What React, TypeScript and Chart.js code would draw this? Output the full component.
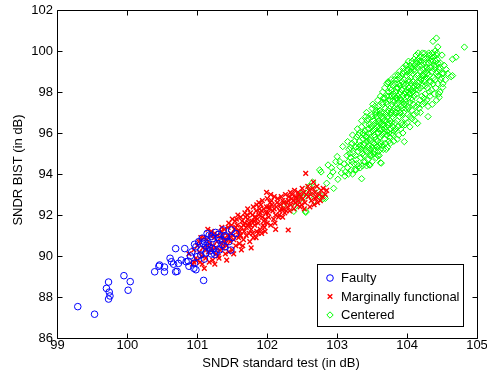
import React, { useEffect, useRef } from 'react';
import { Chart, registerables } from 'chart.js';

Chart.register(...registerables);

const FONT = "'Liberation Sans', Arial, Helvetica, sans-serif";

const xTicks = [99, 100, 101, 102, 103, 104, 105];
const yTicks = [86, 88, 90, 92, 94, 96, 98, 100, 102];
const seriesNames = ['Faulty', 'Marginally functional', 'Centered'];
const xTitle = 'SNDR standard test (in dB)';
const yTitle = 'SNDR BIST (in dB)';

const faulty: [number, number][] = [
  [99.29, 87.53], [99.53, 87.16], [99.73, 88.73], [99.7, 88.42], [99.74, 88.24], [99.75, 88.05], [99.73, 87.9],
  [99.95, 89.04], [100.04, 88.75], [100.01, 88.33], [100.39, 89.23], [100.46, 89.56], [100.53, 89.46], [100.53, 89.23],
  [100.69, 90.36], [100.82, 90.36], [100.61, 89.89], [100.63, 89.72], [100.69, 89.23], [100.71, 89.25], [100.73, 89.64],
  [100.77, 89.8], [100.84, 89.72], [100.87, 89.75], [100.96, 90.57], [100.95, 89.4], [100.98, 89.33], [100.96, 89.64],
  [101.09, 88.81], [101.0, 89.97], [101.07, 90.87], [101.14, 91.1], [101.17, 91.02], [101.22, 90.85], [101.28, 90.6],
  [101.37, 91.27], [101.49, 91.27], [101.48, 90.29], [101.12, 90.52], [101.17, 90.44], [101.22, 90.36], [101.27, 90.2],
  [101.05, 90.3], [101.12, 90.15], [101.25, 90.07], [101.32, 90.3], [101.39, 90.45], [101.42, 90.93], [101.32, 90.77],
  [101.02, 90.7], [101.1, 90.7], [101.15, 90.6], [101.2, 90.95], [101.3, 91.05], [101.35, 90.55], [101.45, 90.7],
  [101.05, 90.05], [101.18, 90.25], [100.9, 90.0], [100.92, 90.2], [101.1, 89.85], [101.3, 90.9], [101.4, 91.0],
  [101.26, 91.15], [100.98, 90.45], [101.2, 90.1], [101.08, 90.62], [101.5, 90.9], [101.55, 91.1], [100.88, 89.5],
  [100.66, 89.6], [100.45, 89.5],
];

const marginal: [number, number][] = [
  [100.88, 90.1], [100.93, 89.6], [100.95, 90.3], [100.98, 89.9], [101.0, 90.5],
  [101.03, 90.2], [101.04, 89.7], [101.02, 90.7],
  [101.08, 90.4], [101.07, 89.6], [101.09, 90.9], [101.06, 90.0],
  [101.13, 90.3], [101.12, 89.9], [101.14, 90.8], [101.15, 90.5],
  [101.18, 90.6], [101.17, 89.7], [101.19, 91.0], [101.16, 90.2],
  [101.23, 90.5], [101.22, 89.8], [101.24, 90.9], [101.21, 90.3], [101.25, 91.1],
  [101.28, 90.7], [101.27, 90.1], [101.29, 91.0], [101.26, 90.4],
  [101.33, 90.9], [101.32, 90.3], [101.34, 91.2], [101.31, 89.9], [101.35, 90.6],
  [101.38, 90.8], [101.37, 90.4], [101.39, 91.3], [101.36, 91.0], [101.4, 90.1],
  [101.43, 91.0], [101.42, 90.5], [101.44, 91.4], [101.41, 90.8], [101.42, 89.8],
  [101.48, 91.1], [101.47, 90.7], [101.49, 91.5], [101.46, 90.9], [101.5, 90.3],
  [101.53, 91.3], [101.52, 90.8], [101.54, 91.7], [101.51, 91.0], [101.55, 90.5],
  [101.58, 91.2], [101.57, 91.5], [101.59, 90.9], [101.56, 91.8], [101.6, 90.6],
  [101.63, 91.4], [101.62, 91.0], [101.64, 91.7], [101.63, 90.3], [101.61, 91.2],
  [101.68, 91.6], [101.67, 91.2], [101.69, 91.9], [101.66, 90.8], [101.7, 91.4],
  [101.73, 91.5], [101.72, 91.8], [101.74, 91.1], [101.71, 92.0], [101.77, 90.4],
  [101.78, 91.7], [101.77, 91.3], [101.79, 92.0], [101.76, 91.5], [101.8, 90.9],
  [101.83, 91.9], [101.82, 91.5], [101.84, 92.2], [101.81, 91.7], [101.85, 91.2],
  [101.88, 92.0], [101.87, 91.6], [101.89, 92.3], [101.86, 91.8], [101.9, 91.3],
  [101.93, 91.9], [101.92, 92.2], [101.94, 91.5], [101.91, 92.5], [101.95, 91.7],
  [101.98, 92.1], [101.97, 91.8], [101.99, 92.4], [101.99, 93.1], [101.96, 91.4],
  [102.03, 92.3], [102.02, 91.9], [102.04, 92.6], [102.01, 92.1],
  [102.08, 92.2], [102.07, 92.5], [102.09, 91.8], [102.06, 92.7],
  [102.13, 92.4], [102.12, 92.0], [102.14, 92.6], [102.11, 91.6],
  [102.19, 92.5], [102.18, 92.2], [102.2, 92.9], [102.17, 92.0],
  [102.24, 92.6], [102.23, 92.3], [102.25, 92.1],
  [102.3, 92.7], [102.29, 92.4], [102.3, 91.27], [102.31, 92.9],
  [102.35, 92.8], [102.34, 92.5], [102.36, 93.0],
  [102.41, 92.9], [102.4, 92.6], [102.42, 92.8],
  [102.46, 93.0], [102.45, 92.7], [102.47, 92.4],
  [102.52, 93.1], [102.51, 92.8], [102.53, 92.3],
  [102.55, 94.03],
  [102.6, 93.2], [102.59, 92.9], [102.61, 92.4],
  [102.66, 93.6], [102.65, 93.3], [102.67, 92.5],
  [102.71, 93.4], [102.7, 92.9], [102.72, 92.6],
  [102.77, 93.2], [102.76, 92.7],
  [102.83, 93.0],
];

const marginalExtra: [number, number][] = [
  [101.05, 90.9], [101.1, 89.4], [101.2, 91.2], [101.25, 89.6], [101.3, 90.0], [101.35, 91.4], [101.4, 90.6],
  [101.45, 91.6], [101.45, 90.2], [101.5, 91.8], [101.52, 90.1], [101.55, 91.4], [101.58, 92.0], [101.6, 91.0],
  [101.62, 91.9], [101.65, 90.5], [101.66, 91.5], [101.68, 92.1], [101.7, 91.0], [101.72, 92.3], [101.74, 91.6],
  [101.75, 90.7], [101.76, 92.1], [101.79, 91.1], [101.8, 92.4], [101.82, 91.9], [101.84, 90.9], [101.85, 92.5],
  [101.87, 91.1], [101.88, 92.6], [101.9, 92.1], [101.92, 91.1], [101.93, 92.7], [101.95, 92.3], [101.97, 91.2],
  [102.0, 92.8], [102.0, 91.6], [102.02, 92.4], [102.05, 91.5], [102.05, 93.0], [102.1, 92.3], [102.1, 92.9],
  [102.12, 91.3], [102.15, 92.8], [102.16, 91.9], [102.2, 92.3], [102.22, 92.7], [102.22, 91.9], [102.26, 93.0],
  [102.27, 92.2], [102.28, 92.6], [102.32, 92.2], [102.33, 93.1], [102.37, 92.7], [102.38, 92.3], [102.39, 93.2],
  [102.43, 92.5], [102.44, 93.1], [102.48, 92.9], [102.49, 92.5], [102.5, 93.3], [102.54, 92.6], [102.56, 93.0],
  [102.58, 93.4], [102.62, 93.0], [102.63, 92.7], [102.68, 93.1], [102.69, 92.8], [102.74, 93.0], [102.79, 92.9],
  [102.8, 93.3], [102.85, 93.2], [101.15, 91.3], [101.0, 89.8], [100.95, 89.7],
];

const centeredTail: [number, number][] = [
  [102.24, 92.52], [102.38, 92.18], [102.55, 92.18], [102.46, 92.73], [102.48, 93.0], [102.58, 93.1], [102.67, 92.7],
  [102.8, 92.8], [102.85, 93.55], [102.77, 94.1], [102.87, 94.44], [103.0, 94.85], [103.04, 94.6], [103.1, 94.5],
  [102.55, 92.13], [102.83, 92.81], [102.94, 94.1], [103.01, 93.74], [102.62, 92.95], [102.7, 93.3], [102.6, 93.4],
  [102.52, 92.85], [102.9, 93.9], [102.95, 93.3], [102.75, 93.0], [102.4, 92.4], [102.65, 93.6], [102.92, 94.3],
  [102.75, 94.2], [103.04, 94.36], [103.08, 95.34], [103.15, 95.58], [103.18, 95.0], [103.27, 95.33], [103.35, 93.77],
  [103.27, 94.2], [103.46, 94.44], [103.62, 94.55], [103.96, 95.58], [103.06, 94.05], [102.98, 94.6],
];

const centeredCore: [number, number][] = [
  [103.12, 94.1], [103.14, 94.9], [103.11, 93.9],
  [103.16, 94.6], [103.17, 95.2], [103.15, 94.3],
  [103.2, 94.2], [103.21, 95.5], [103.19, 94.8],
  [103.23, 95.0], [103.24, 94.5], [103.22, 95.9],
  [103.27, 94.7], [103.26, 95.3], [103.28, 95.8], [103.25, 94.2],
  [103.3, 95.1], [103.31, 94.4], [103.29, 96.2], [103.32, 95.6],
  [103.33, 95.4], [103.34, 94.8], [103.32, 96.0], [103.35, 96.6],
  [103.36, 95.0], [103.37, 95.7], [103.38, 94.6], [103.35, 96.3], [103.36, 95.3],
  [103.39, 95.5], [103.4, 96.1], [103.38, 94.9], [103.41, 96.8], [103.4, 95.2],
  [103.42, 95.8], [103.43, 95.1], [103.41, 96.4], [103.44, 94.7], [103.42, 97.0], [103.43, 95.6],
  [103.45, 96.0], [103.46, 95.4], [103.44, 96.7], [103.47, 94.9], [103.45, 96.2], [103.46, 95.7],
  [103.48, 95.6], [103.49, 96.3], [103.47, 95.0], [103.5, 97.2], [103.48, 96.0], [103.5, 94.6],
  [103.51, 96.1], [103.52, 95.5], [103.5, 96.8], [103.53, 95.2], [103.51, 97.4], [103.52, 96.4], [103.53, 95.9],
  [103.54, 95.8], [103.55, 96.5], [103.53, 95.1], [103.56, 97.0], [103.54, 96.2], [103.56, 94.8], [103.55, 96.9],
  [103.57, 96.3], [103.58, 95.6], [103.56, 97.1], [103.59, 96.0], [103.57, 95.3], [103.58, 97.6], [103.59, 96.6],
  [103.6, 96.5], [103.61, 95.8], [103.59, 97.3], [103.62, 96.1], [103.6, 95.4], [103.61, 96.9], [103.62, 97.8], [103.6, 94.9],
  [103.63, 96.2], [103.64, 96.8], [103.62, 95.5], [103.65, 97.4], [103.63, 96.5], [103.64, 95.9], [103.65, 98.0],
  [103.66, 96.7], [103.67, 96.0], [103.65, 97.5], [103.68, 95.7], [103.66, 97.0], [103.67, 96.4], [103.68, 98.2], [103.66, 95.2],
  [103.69, 96.9], [103.7, 96.3], [103.68, 97.7], [103.71, 95.9], [103.69, 97.2], [103.7, 96.6], [103.71, 98.4],
  [103.72, 97.0], [103.73, 96.4], [103.71, 97.8], [103.74, 96.0], [103.72, 97.4], [103.73, 98.5], [103.74, 95.6], [103.72, 96.8],
  [103.75, 97.2], [103.76, 96.6], [103.74, 98.0], [103.77, 96.2], [103.75, 97.6], [103.76, 96.9], [103.77, 98.6], [103.75, 95.8],
  [103.78, 97.4], [103.79, 96.8], [103.77, 98.1], [103.8, 96.3], [103.78, 97.8], [103.79, 97.1], [103.8, 95.9],
  [103.81, 97.5], [103.82, 96.9], [103.8, 98.3], [103.83, 96.5], [103.81, 97.9], [103.82, 97.2], [103.83, 98.8], [103.81, 96.1],
  [103.84, 97.7], [103.85, 97.0], [103.83, 98.4], [103.86, 96.6], [103.84, 98.0], [103.85, 97.4], [103.86, 95.7],
  [103.87, 97.8], [103.88, 97.2], [103.86, 98.6], [103.89, 96.8], [103.87, 98.2], [103.88, 97.5], [103.89, 99.0], [103.87, 96.3],
  [103.9, 98.0], [103.91, 97.3], [103.89, 98.7], [103.92, 96.9], [103.9, 98.3], [103.91, 97.6], [103.92, 96.5],
  [103.93, 98.1], [103.94, 97.5], [103.92, 98.8], [103.95, 97.0], [103.93, 98.5], [103.94, 97.8], [103.95, 99.2], [103.93, 96.4],
  [103.96, 98.3], [103.97, 97.6], [103.95, 99.0], [103.98, 97.2], [103.96, 98.6], [103.97, 97.9], [103.98, 96.7],
  [103.99, 98.4], [104.0, 97.8], [103.98, 99.3], [104.01, 97.3], [103.99, 98.8], [104.0, 98.1], [104.01, 96.9],
  [104.02, 98.6], [104.03, 97.9], [104.01, 99.1], [104.04, 97.5], [104.02, 98.9], [104.03, 98.2], [104.04, 96.8], [104.02, 99.5],
  [104.05, 98.7], [104.06, 98.1], [104.04, 99.3], [104.07, 97.6], [104.05, 99.0], [104.06, 98.4], [104.07, 97.1],
  [104.08, 98.9], [104.09, 98.2], [104.07, 99.5], [104.1, 97.8], [104.08, 99.2], [104.09, 98.5], [104.1, 96.9],
  [104.11, 99.0], [104.12, 98.4], [104.1, 99.6], [104.13, 97.9], [104.11, 99.3], [104.12, 98.7], [104.13, 97.3],
  [104.14, 99.2], [104.15, 98.5], [104.13, 99.8], [104.16, 98.1], [104.14, 99.4], [104.15, 98.8], [104.16, 97.4],
  [104.17, 99.3], [104.18, 98.7], [104.16, 99.9], [104.19, 98.2], [104.17, 99.5], [104.18, 97.6],
  [104.2, 99.5], [104.21, 98.8], [104.19, 99.7], [104.22, 98.3], [104.2, 99.0], [104.21, 97.8],
  [104.23, 99.4], [104.24, 98.9], [104.22, 99.9], [104.25, 98.5], [104.23, 99.1], [104.24, 97.7],
  [104.26, 99.6], [104.27, 99.0], [104.25, 98.6], [104.28, 99.2], [104.26, 97.9],
  [104.29, 99.7], [104.3, 99.1], [104.28, 98.7], [104.31, 99.4], [104.29, 98.2],
  [104.32, 99.8], [104.33, 99.2], [104.31, 98.8], [104.34, 99.5], [104.32, 98.0],
  [104.35, 99.6], [104.36, 99.0], [104.34, 98.5], [104.36, 99.9],
  [104.38, 99.7], [104.39, 99.1], [104.37, 98.4], [104.39, 99.3],
  [104.41, 99.5], [104.42, 98.9], [104.4, 98.6], [104.42, 99.8],
  [104.44, 99.4], [104.45, 98.8], [104.43, 99.0],
  [104.47, 99.2], [104.48, 98.6],
  [104.5, 98.9], [104.51, 98.4],
];

const centeredExtra: [number, number][] = [
  [103.22, 94.0], [103.25, 95.6], [103.28, 94.5], [103.3, 95.9], [103.33, 94.3], [103.34, 95.2], [103.37, 96.0],
  [103.38, 95.4], [103.4, 94.6], [103.41, 95.8], [103.43, 96.6], [103.44, 95.3], [103.46, 96.4], [103.47, 95.2],
  [103.49, 96.9], [103.49, 94.9], [103.52, 96.6], [103.52, 95.0], [103.54, 97.3], [103.55, 95.4], [103.57, 96.8],
  [103.58, 94.9], [103.6, 96.2], [103.61, 97.1], [103.62, 95.2], [103.64, 96.4], [103.65, 95.4], [103.66, 97.7],
  [103.67, 96.6], [103.69, 95.5], [103.7, 97.5], [103.71, 96.1], [103.72, 95.3], [103.73, 97.1], [103.74, 96.5],
  [103.76, 98.2], [103.76, 95.5], [103.77, 97.0], [103.79, 96.0], [103.8, 97.6], [103.81, 95.6], [103.82, 98.6],
  [103.83, 97.0], [103.84, 96.2], [103.85, 98.2], [103.86, 97.2], [103.88, 95.9], [103.88, 98.4], [103.9, 97.0],
  [103.91, 96.2], [103.92, 98.1], [103.93, 97.2], [103.94, 96.0], [103.95, 98.4], [103.96, 97.4], [103.97, 96.4],
  [103.98, 98.0], [104.0, 96.5], [104.0, 99.0], [104.02, 97.2], [104.03, 98.5], [104.04, 96.3], [104.05, 97.9],
  [104.06, 99.2], [104.07, 96.7], [104.08, 98.0], [104.09, 97.4], [104.1, 99.1], [104.11, 96.6], [104.12, 98.1],
  [104.13, 99.5], [104.14, 97.0], [104.15, 98.3], [104.16, 99.6], [104.17, 97.2], [104.18, 98.5], [104.19, 97.0],
  [104.2, 98.6], [104.21, 99.3], [104.22, 97.4], [104.23, 98.8], [104.24, 99.7], [104.25, 97.5], [104.26, 98.3],
  [104.27, 99.4], [104.28, 97.6], [104.29, 98.9], [104.3, 97.3], [104.31, 99.9], [104.32, 98.5], [104.33, 97.8],
  [104.34, 99.2], [104.35, 98.1], [104.36, 97.4], [104.37, 99.5], [104.38, 98.7], [104.39, 97.9], [104.4, 99.2],
  [104.41, 98.2], [104.42, 97.6], [104.43, 99.6], [104.44, 98.4], [104.45, 97.9], [104.46, 99.1], [104.47, 98.0],
  [104.48, 99.4], [104.49, 98.7], [104.5, 99.8], [104.52, 98.9], [104.53, 99.3], [104.55, 98.6], [104.56, 99.1],
  [104.58, 98.9], [103.16, 94.0], [103.19, 95.3], [103.21, 94.6], [103.26, 94.9], [103.31, 95.3], [103.36, 94.4],
  [103.39, 95.9], [103.42, 94.4], [103.5, 95.3], [103.56, 95.7], [103.59, 95.1], [103.63, 97.0], [103.68, 96.2],
  [103.7, 95.2], [103.74, 97.8], [103.78, 96.5], [103.82, 97.8], [103.86, 97.7], [103.9, 97.7], [103.94, 98.9],
  [103.98, 97.5], [104.02, 98.0], [104.06, 97.7], [104.1, 98.3],
];

const centeredOutliers: [number, number][] = [
  [104.82, 100.19], [104.42, 100.63], [104.37, 100.47], [104.44, 100.2], [104.65, 99.6], [104.7, 99.7],
  [104.63, 98.75], [104.65, 98.8], [104.51, 98.23], [104.46, 97.74], [104.3, 96.8], [104.15, 96.47],
  [103.99, 99.32], [103.73, 98.46], [103.63, 94.53], [103.47, 94.44], [104.4, 100.0], [104.43, 99.9],
  [104.25, 99.89], [104.35, 99.72], [103.87, 98.83],
];

const toPts = (arr: [number, number][]) => arr.map(([x, y]) => ({ x, y }));

const seriesColors = ['#0000ff', '#ff0000', '#00ff00'];
const seriesStyles = ['circle', 'crossRot', 'rectRot'];

function drawMarker(ctx: CanvasRenderingContext2D, style: string, x: number, y: number, color: string) {
  ctx.save();
  ctx.strokeStyle = color;
  ctx.beginPath();
  if (style === 'circle') {
    ctx.lineWidth = 1;
    ctx.arc(x, y, 3.3, 0, Math.PI * 2);
  } else if (style === 'crossRot') {
    ctx.lineWidth = 1.4;
    const d = 2.3;
    ctx.moveTo(x - d, y - d); ctx.lineTo(x + d, y + d);
    ctx.moveTo(x + d, y - d); ctx.lineTo(x - d, y + d);
  } else {
    ctx.lineWidth = 1;
    const r = 3.2;
    ctx.moveTo(x, y - r); ctx.lineTo(x + r, y); ctx.lineTo(x, y + r); ctx.lineTo(x - r, y); ctx.closePath();
  }
  ctx.stroke();
  ctx.restore();
}

const framePlugin = {
  id: 'matlabFrame',
  afterDatasetsDraw(chart: any) {
    const { ctx, chartArea: a, scales } = chart;
    const xs = scales.x;
    const ys = scales.y;
    const L = Math.floor(a.left) + 0.5;
    const R = Math.floor(a.right) + 0.5;
    const T = Math.floor(a.top) + 0.5;
    const B = Math.floor(a.bottom) + 0.5;
    const tl = 5;
    ctx.save();
    ctx.strokeStyle = '#000';
    ctx.lineWidth = 1;
    ctx.beginPath();
    ctx.moveTo(L, T); ctx.lineTo(R, T); ctx.lineTo(R, B); ctx.lineTo(L, B); ctx.closePath();
    xTicks.forEach((v) => {
      const px = Math.floor(xs.getPixelForValue(v)) + 0.5;
      ctx.moveTo(px, B); ctx.lineTo(px, B - tl);
      ctx.moveTo(px, T); ctx.lineTo(px, T + tl);
    });
    yTicks.forEach((v) => {
      const py = Math.floor(ys.getPixelForValue(v)) + 0.5;
      ctx.moveTo(L, py); ctx.lineTo(L + tl, py);
      ctx.moveTo(R, py); ctx.lineTo(R - tl, py);
    });
    ctx.stroke();
    ctx.restore();
  },
  afterDraw(chart: any) {
    const { ctx } = chart;
    ctx.save();
    ctx.fillStyle = '#000';
    ctx.font = `13px ${FONT}`;
    ctx.textAlign = 'center';
    ctx.textBaseline = 'alphabetic';
    ctx.fillText(xTitle, 281, 367);
    ctx.save();
    ctx.translate(21.5, 170);
    ctx.rotate(-Math.PI / 2);
    ctx.fillText(yTitle, 0, 0);
    ctx.restore();

    const bx = 317.5, by = 264.5, bw = 146, bh = 62;
    ctx.fillStyle = '#fff';
    ctx.fillRect(bx, by, bw, bh);
    ctx.strokeStyle = '#000';
    ctx.lineWidth = 1;
    ctx.strokeRect(bx, by, bw, bh);
    const rows = [278, 296.5, 315];
    ctx.textAlign = 'left';
    ctx.textBaseline = 'middle';
    seriesNames.forEach((name, i) => {
      drawMarker(ctx, seriesStyles[i], 330, rows[i], seriesColors[i]);
      ctx.fillStyle = '#000';
      ctx.fillText(name, 341, rows[i] + 0.5);
    });
    ctx.restore();
  },
};

export default function App() {
  const ref = useRef<HTMLCanvasElement | null>(null);
  useEffect(() => {
    if (!ref.current) return;
    const chart = new Chart(ref.current, {
      type: 'scatter',
      data: {
        datasets: [
          {
            label: seriesNames[0],
            data: toPts(faulty),
            pointStyle: 'circle',
            pointRadius: 3.3,
            pointBorderWidth: 1,
            borderColor: seriesColors[0],
            backgroundColor: 'rgba(0,0,0,0)',
          },
          {
            label: seriesNames[1],
            data: toPts([...marginal, ...marginalExtra]),
            pointStyle: 'crossRot',
            pointRadius: 3.3,
            pointBorderWidth: 1.4,
            borderColor: seriesColors[1],
            backgroundColor: 'rgba(0,0,0,0)',
          },
          {
            label: seriesNames[2],
            data: toPts([...centeredTail, ...centeredCore, ...centeredExtra, ...centeredOutliers]),
            pointStyle: 'rectRot',
            pointRadius: 3.2,
            pointBorderWidth: 1,
            borderColor: seriesColors[2],
            backgroundColor: 'rgba(0,0,0,0)',
          },
        ],
      } as any,
      options: {
        animation: false,
        responsive: false,
        devicePixelRatio: 1,
        events: [],
        layout: { padding: { top: 10, right: 10, left: 0, bottom: 0 } },
        plugins: { legend: { display: false }, tooltip: { enabled: false }, title: { display: false } },
        scales: {
          x: {
            type: 'linear',
            min: 99,
            max: 105,
            afterBuildTicks: (s: any) => { s.ticks = xTicks.map((v) => ({ value: v })); },
            grid: { display: false, drawTicks: false },
            border: { display: false },
            ticks: { padding: 0, color: '#000', font: { family: FONT, size: 13 }, maxRotation: 0, autoSkip: false },
            afterFit: (s: any) => { s.height = 44; s.paddingLeft = 0; s.paddingRight = 0; },
          },
          y: {
            type: 'linear',
            min: 86,
            max: 102,
            afterBuildTicks: (s: any) => { s.ticks = yTicks.map((v) => ({ value: v })); },
            grid: { display: false, drawTicks: false },
            border: { display: false },
            ticks: { padding: 4.5, color: '#000', font: { family: FONT, size: 13 }, autoSkip: false },
            afterFit: (s: any) => { s.width = 57.5; s.paddingTop = 0; s.paddingBottom = 0; },
          },
        },
      } as any,
      plugins: [framePlugin],
    });
    return () => chart.destroy();
  }, []);
  return (
    <div style={{ position: 'absolute', left: 0, top: 0, width: 487, height: 382, background: '#fff' }}>
      <canvas ref={ref} width={487} height={382} style={{ display: 'block' }} />
    </div>
  );
}
